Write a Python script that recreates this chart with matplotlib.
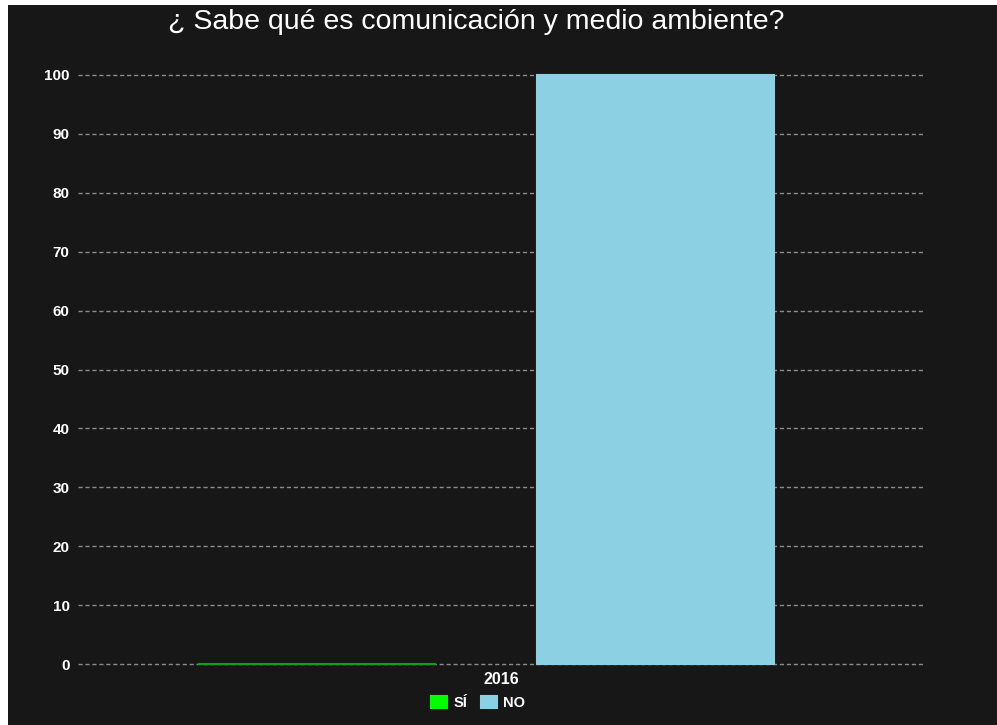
import matplotlib.pyplot as plt
from matplotlib.patches import Rectangle

# data
year = '2016'
series = ['SÍ', 'NO']
values = [0, 100]
colors = ['#00ff00', '#8bd1e3']
edges = ['#10a010', '#8bd1e3']
yticks = list(range(0, 101, 10))

W, H = 997, 725
fig = plt.figure(figsize=(W / 100, H / 100), dpi=100)
fig.patch.set_facecolor('white')
# dark canvas (thin white border on top and left like the screenshot)
fig.add_artist(Rectangle((8 / W, 0), 1 - 8 / W, 1 - 5 / H, transform=fig.transFigure,
                         facecolor='#171717', edgecolor='none', zorder=0))

# axes in pixel positions
x0, x1 = 78, 925
ytop, ybot = 75, 664
ax = fig.add_axes([x0 / W, 1 - ybot / H, (x1 - x0) / W, (ybot - ytop) / H])
ax.set_facecolor('none')

K = 400.0  # pixels per data unit
center = 501
ax.set_xlim(-(center - x0) / K, (x1 - center) / K)
ax.set_ylim(0, 100)

bw = 237.5 / K
offs = [(317 - center) / K, (655.5 - center) / K]
for i, (name, v) in enumerate(zip(series, values)):
    bars = ax.bar(offs[i], v, width=bw, color=colors[i], edgecolor=edges[i], linewidth=1.5,
                  label=name, zorder=3)
    for b in bars:
        b.set_clip_on(False)

ax.set_yticks(yticks)
ax.set_xticks([0])
ax.set_xticklabels([year])
ax.grid(axis='y', color='#8c8c8c', linestyle=(0, (3, 2)), linewidth=1.0, zorder=1)
ax.grid(axis='x', visible=False)
for gl in ax.get_ygridlines():
    gl.set_clip_on(False)
for s in ax.spines.values():
    s.set_visible(False)
ax.tick_params(axis='both', length=0, colors='white')
ax.tick_params(axis='y', pad=6, labelsize=11)
ax.tick_params(axis='x', pad=6, labelsize=11.5)
for t in ax.get_yticklabels() + ax.get_xticklabels():
    t.set_fontfamily('Liberation Sans')
    t.set_fontweight('bold')

fig.text(476 / W, 1 - 22 / H, '¿ Sabe qué es comunicación y medio ambiente?', color='white',
         ha='center', va='center', fontsize=20.5, fontfamily='Liberation Sans')

leg = fig.legend(loc='center', bbox_to_anchor=(478 / W, 1 - 703 / H), ncol=2, frameon=False,
                 handlelength=1.1, handleheight=0.95, handletextpad=0.45, columnspacing=0.9,
                 prop={'family': 'Liberation Sans', 'size': 10.5, 'weight': 'bold'})
for t in leg.get_texts():
    t.set_color('white')
for hdl, c in zip(leg.legend_handles, colors):
    hdl.set_edgecolor(c)

fig.savefig('out.png', dpi=100, facecolor=fig.get_facecolor())
